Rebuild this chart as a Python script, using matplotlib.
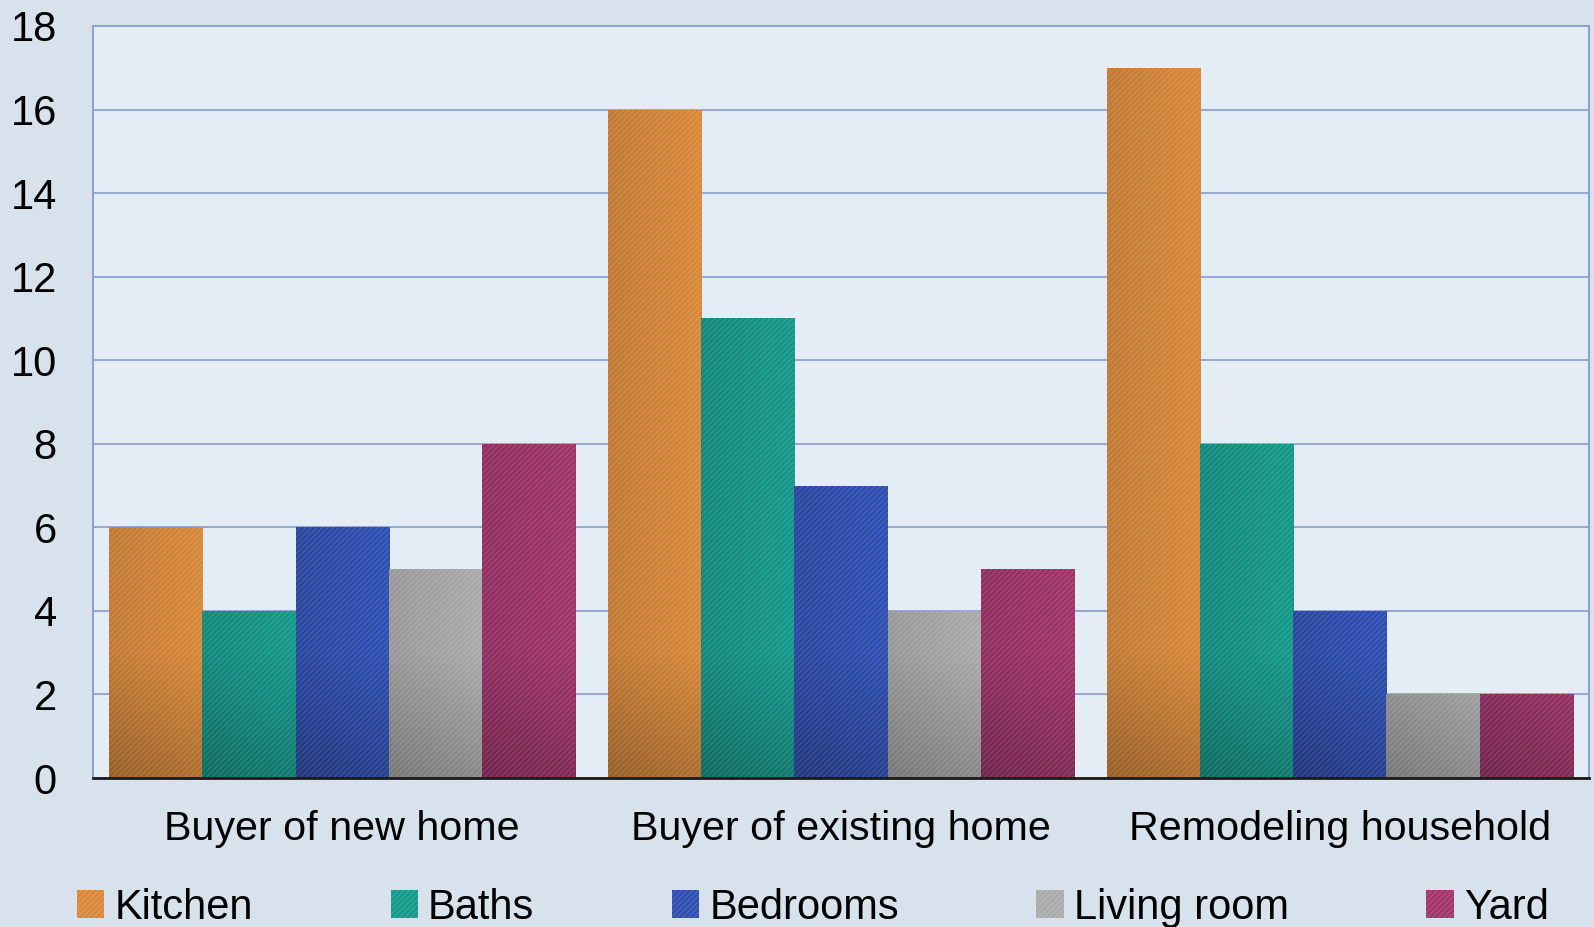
import numpy as np
import matplotlib.pyplot as plt
from matplotlib import font_manager
from matplotlib.patches import Patch
from matplotlib.colors import to_rgb

categories = ["Buyer of new home", "Buyer of existing home", "Remodeling household"]
series = ["Kitchen", "Baths", "Bedrooms", "Living room", "Yard"]
kitchen = [6, 16, 17]
baths = [4, 11, 8]
bedrooms = [6, 7, 4]
living_room = [5, 4, 2]
yard = [8, 5, 2]
values = [kitchen, baths, bedrooms, living_room, yard]
colors = ["#d9893a", "#15998b", "#2f4fb3", "#ababab", "#a1356c"]
yticks = [0, 2, 4, 6, 8, 10, 12, 14, 16, 18]

names = {f.name for f in font_manager.fontManager.ttflist}
main_font = "Liberation Sans" if "Liberation Sans" in names else "DejaVu Sans"
plt.rcParams["font.family"] = [main_font, "DejaVu Sans"]
plt.rcParams["hatch.linewidth"] = 0.6

fig = plt.figure(figsize=(15.94, 9.27), dpi=100, facecolor="#d8e2ec")
ax = fig.add_axes([0.0583, 0.1607, 0.9386, 0.8113])
ax.set_facecolor("#e4edf6")

x = np.arange(len(categories))
width = 0.187
offsets = (np.arange(len(series)) - 2) * width


def shaded(color, h):
    # diagonal shading: darker toward the lower-left of each bar
    base = np.array(to_rgb(color))
    yy, xx = np.mgrid[0:1:200j, 0:1:40j]
    t = np.clip(0.35 * xx + np.minimum(yy * h / 3.0, 1.0) * 0.65, 0, 1)
    f = 0.7 + 0.3 * t
    img = base[None, None, :] * f[..., None]
    return np.clip(img, 0, 1)


for vals, col, off in zip(values, colors, offsets):
    bars = ax.bar(x + off, vals, width, color=col, linewidth=0, zorder=2)
    for p in bars:
        bx, by = p.get_x(), p.get_y()
        bw, bh = p.get_width(), p.get_height()
        im = ax.imshow(shaded(col, bh), origin="lower", aspect="auto",
                       extent=(bx, bx + bw, by, by + bh), zorder=2.5,
                       interpolation="bilinear")
        im.set_clip_path(p)
    ax.bar(x + off, vals, width, facecolor="none", edgecolor=(1, 1, 1, 0.18),
           hatch="//////", linewidth=0, zorder=3)

ax.set_xlim(-0.5, 2.5)
ax.set_ylim(0, 18)
ax.set_yticks(yticks)
ax.set_xticks(x)
ax.set_xticklabels(categories)
ax.tick_params(axis="y", length=0, pad=26, labelsize=30)
ax.tick_params(axis="x", length=0, pad=23, labelsize=29.7)
ax.grid(axis="y", color="#8ea2d2", linewidth=1.3, zorder=1)
ax.set_axisbelow(True)
for s in ["left", "right", "top"]:
    ax.spines[s].set_color("#8ea2d2")
    ax.spines[s].set_linewidth(1.5)
ax.spines["bottom"].set_color("#1a1a1a")
ax.spines["bottom"].set_linewidth(2)
ax.spines["bottom"].set_zorder(4)

handles = [Patch(facecolor=c, edgecolor=(1, 1, 1, 0.2), hatch="//////", linewidth=0)
           for c in colors]
fig.legend(handles, series, loc="center", bbox_to_anchor=(0.51, 0.021), ncol=5,
           frameon=False, prop={"size": 30},
           handlelength=0.65, handleheight=0.65, handletextpad=0.25,
           columnspacing=3.3, borderaxespad=0)

fig.savefig("out.png", dpi=100, facecolor=fig.get_facecolor())
